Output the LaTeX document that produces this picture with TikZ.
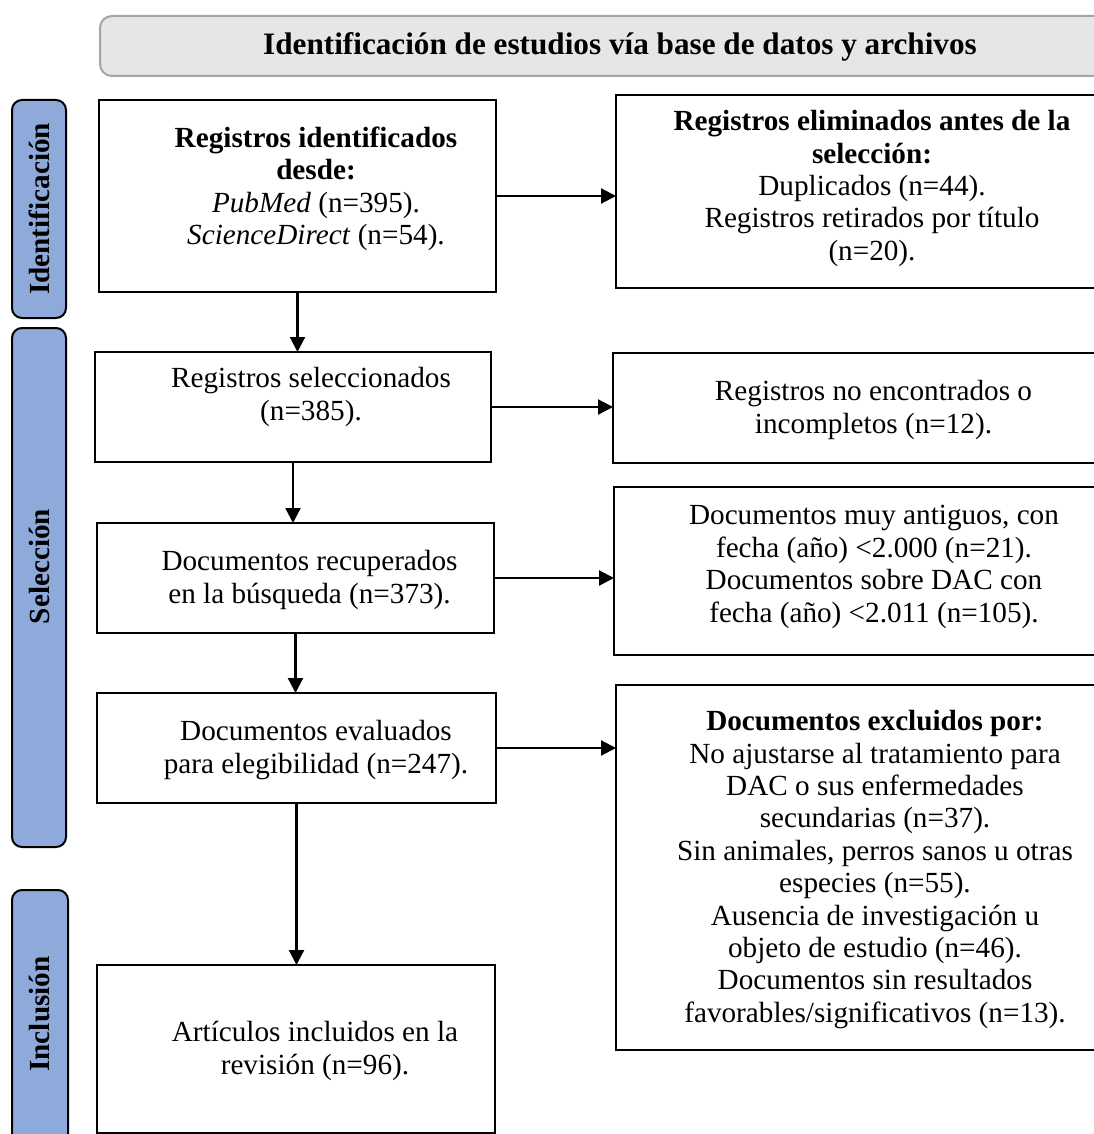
\documentclass[tikz,border=0pt]{standalone}
\usepackage{fontspec}
\setmainfont{Liberation Serif}
\usetikzlibrary{arrows.meta,positioning}
\definecolor{tabblue}{HTML}{8EAADB}
\definecolor{bannergray}{HTML}{E7E6E6}
\definecolor{bannerline}{HTML}{A5A5A5}

\begin{document}
\begin{tikzpicture}[x=0.5pt,y=-0.5pt]
    \tikzstyle{box} = [rectangle, draw=black, line width=1.1pt, inner sep=0pt, outer sep=0pt]
    \tikzstyle{tab} = [rectangle, rounded corners=5pt, draw=black, line width=1pt, fill=tabblue, inner sep=0pt, minimum width=27pt]
    \tikzstyle{banner} = [rectangle, rounded corners=6pt, draw=bannerline, line width=1pt, fill=bannergray, inner sep=0pt]
    \tikzstyle{txt} = [align=center, inner sep=0pt, font=\fontsize{14.6}{16.2}\selectfont]
    \tikzstyle{link} = [line width=1.1pt, -{Triangle[length=7.5pt,width=7.5pt]}]

    \useasboundingbox (0,0) rectangle (1093,1134);

    % header
    \node [banner, minimum width=520pt, minimum height=30pt] (head) at (620,46) {};
    \node [txt, font=\fontsize{15.6}{17}\selectfont\bfseries] at ([yshift=-0.5pt]head.center) {Identificación de estudios vía base de datos y archivos};

    % phases on the left
    \node [tab, minimum height=109pt] (phase1) at (39,209) {};
    \node [txt, rotate=90, font=\fontsize{14.6}{16.2}\selectfont\bfseries] at (phase1.center) {Identificación};
    \node [tab, minimum height=259.5pt] (phase2) at (39,587.5) {};
    \node [txt, rotate=90, font=\fontsize{14.6}{16.2}\selectfont\bfseries] at ([yshift=10.5pt]phase2.center) {Selección};
    \node [tab, minimum width=28pt, minimum height=135pt] (phase3) at (40,1025) {};
    \node [txt, rotate=90, font=\fontsize{14.6}{16.2}\selectfont\bfseries] at ([yshift=5.5pt]phase3.center) {Inclusión};

    % main column
    \node [box, minimum width=198.5pt, minimum height=96pt] (ident) at (297.5,196) {};
    \node [txt] at ([xshift=9.25pt,yshift=3.5pt]ident.center) {\textbf{Registros identificados}\\\textbf{desde:}\\\textit{PubMed} (n=395).\\\textit{ScienceDirect} (n=54).};

    \node [box, minimum width=198pt, minimum height=55pt] (selec) at (293,407) {};
    \node [txt] at ([xshift=9pt,yshift=5pt]selec.center) {Registros seleccionados\\(n=385).};

    \node [box, minimum width=198.5pt, minimum height=55pt] (recup) at (295.5,578) {};
    \node [txt] at ([xshift=7pt,yshift=-1pt]recup.center) {Documentos recuperados\\en la búsqueda (n=373).};

    \node [box, minimum width=199.5pt, minimum height=55pt] (evalu) at (296.5,748) {};
    \node [txt] at ([xshift=9.75pt,yshift=-1pt]evalu.center) {Documentos evaluados\\para elegibilidad (n=247).};

    \node [box, minimum width=199pt, minimum height=84pt] (inclu) at (296,1049) {};
    \node [txt] at ([xshift=9.5pt,yshift=-1pt]inclu.center) {Artículos incluidos en la\\revisión (n=96).};

    % exclusions on the right
    \node [box, minimum width=259pt, minimum height=96.5pt] (elimin) at (875,191.5) {};
    \node [txt] at ([xshift=-1.5pt,yshift=1.5pt]elimin.center) {\textbf{Registros eliminados antes de la}\\\textbf{selección:}\\Duplicados (n=44).\\Registros retirados por título\\(n=20).};

    \node [box, minimum width=260.5pt, minimum height=55pt] (noenc) at (873.5,408) {};
    \node [txt] at ([yshift=-1pt]noenc.center) {Registros no encontrados o\\incompletos (n=12).};

    \node [box, minimum width=260pt, minimum height=84pt] (antig) at (874,571) {};
    \node [txt] at ([yshift=2pt]antig.center) {Documentos muy antiguos, con\\fecha (año) <2.000 (n=21).\\Documentos sobre DAC con\\fecha (año) <2.011 (n=105).};

    \node [box, minimum width=259pt, minimum height=182.5pt] (exclu) at (875,867.5) {};
    \node [txt] at ([yshift=-1pt]exclu.center) {\textbf{Documentos excluidos por:}\\No ajustarse al tratamiento para\\DAC o sus enfermedades\\secundarias (n=37).\\Sin animales, perros sanos u otras\\especies (n=55).\\Ausencia de investigación u\\objeto de estudio (n=46).\\Documentos sin resultados\\favorables/significativos (n=13).};

    % connectors
    \draw [link] (ident.south) -- (ident.south |- selec.north);
    \draw [link] (selec.south) -- (selec.south |- recup.north);
    \draw [link] (recup.south) -- (recup.south |- evalu.north);
    \draw [link] (evalu.south) -- (evalu.south |- inclu.north);

    \draw [link] (ident.east) -- (ident.east -| elimin.west);
    \draw [link] (selec.east) -- (selec.east -| noenc.west);
    \draw [link] (recup.east) -- (recup.east -| antig.west);
    \draw [link] (evalu.east) -- (evalu.east -| exclu.west);

\end{tikzpicture}
\end{document}
